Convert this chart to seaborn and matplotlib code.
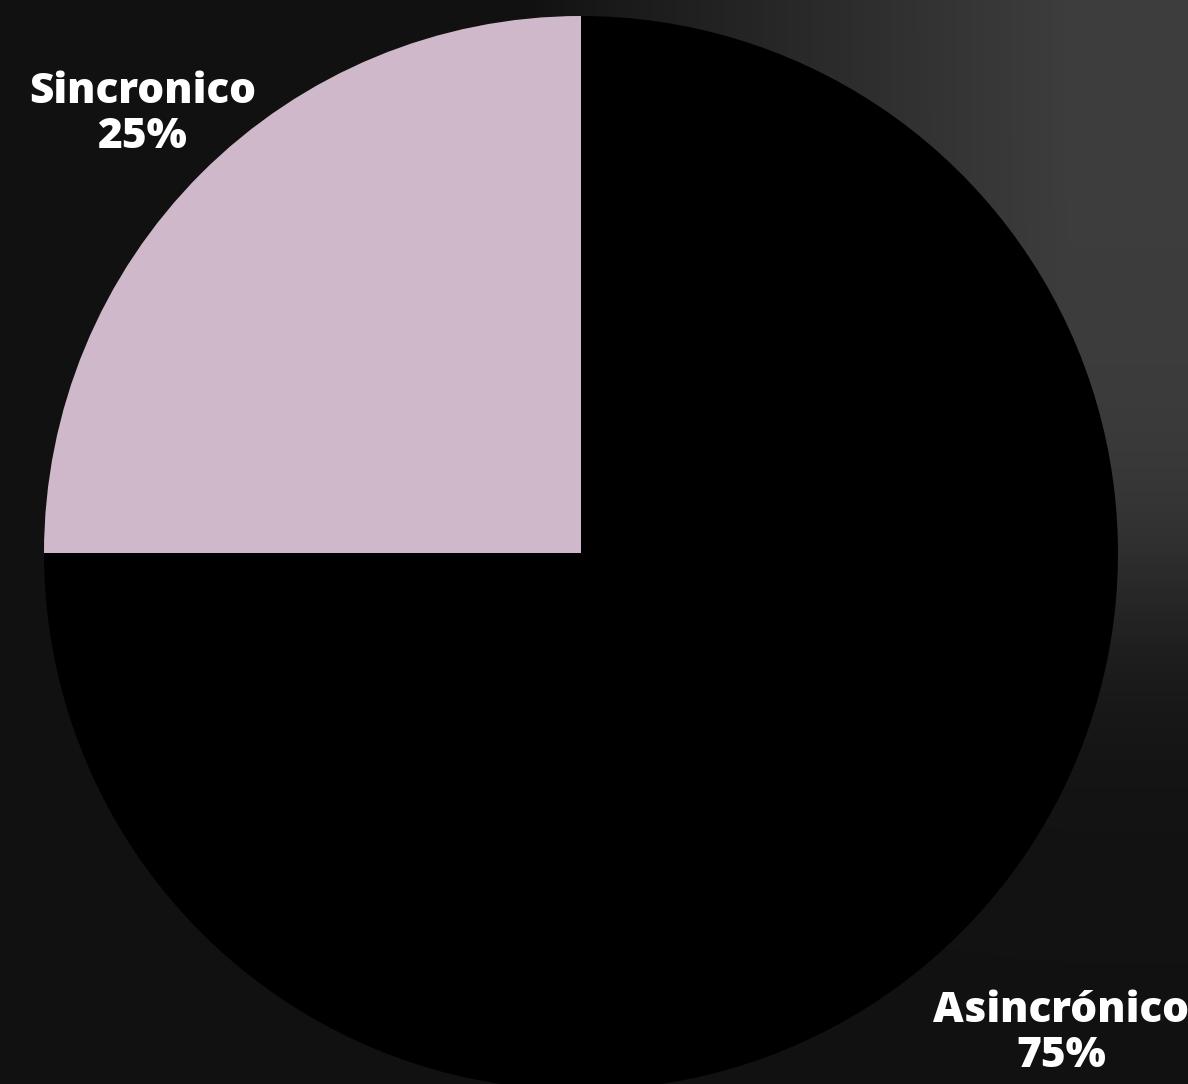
import numpy as np
import matplotlib
matplotlib.use("Agg")
import matplotlib.pyplot as plt
import seaborn as sns

# ── data ────────────────────────────────────────────────────────────────
categories = ["Sincronico", "Asincrónico"]
shares = [25, 75]
slice_colors = ["#cfb8c9", "#000000"]
label_dist = [1.155, 1.265]

sns.set_theme(style="dark")
plt.rcParams["font.family"] = ["Open Sans", "DejaVu Sans"]

fig = plt.figure(figsize=(11.88, 10.84), dpi=100)

# background: dark photo-like gradient (brighter top-right, fading downward)
bg = fig.add_axes([0, 0, 1, 1])
xx = np.linspace(0, 1, 400)
yy = np.linspace(0, 1, 400)
gx, gy = np.meshgrid(xx, yy)
fx = np.clip((gx - 0.45) / 0.45, 0, 1) ** 0.9
fy = 1 / (1 + np.exp((gy - 0.55) / 0.06))
grad = 0.07 + 0.17 * fx * fy
bg.imshow(np.dstack([grad] * 3), aspect="auto", extent=[0, 1, 0, 1], origin="upper")
bg.set_axis_off()

# pie axes (radius ~537 px, centre at 581,553)
ax = fig.add_axes([44 / 1188, -6 / 1084, 1074 / 1188, 1074 / 1084])
wedges, _ = ax.pie(shares, colors=slice_colors, startangle=90, counterclock=True,
                   radius=1, wedgeprops={"linewidth": 0})
ax.set_xlim(-1, 1)
ax.set_ylim(-1, 1)
ax.set_aspect("equal")
ax.set_axis_off()

total = sum(shares)
start = 90
for name, val, dist in zip(categories, shares, label_dist):
    mid = np.deg2rad(start + 360 * val / total / 2)
    start += 360 * val / total
    ax.text(dist * np.cos(mid), dist * np.sin(mid),
            f"{name}\n{val}%", ha="center", va="center",
            color="white", fontsize=30.5, fontweight="heavy",
            linespacing=1.1, clip_on=False)

fig.savefig("out.png", dpi=100)
